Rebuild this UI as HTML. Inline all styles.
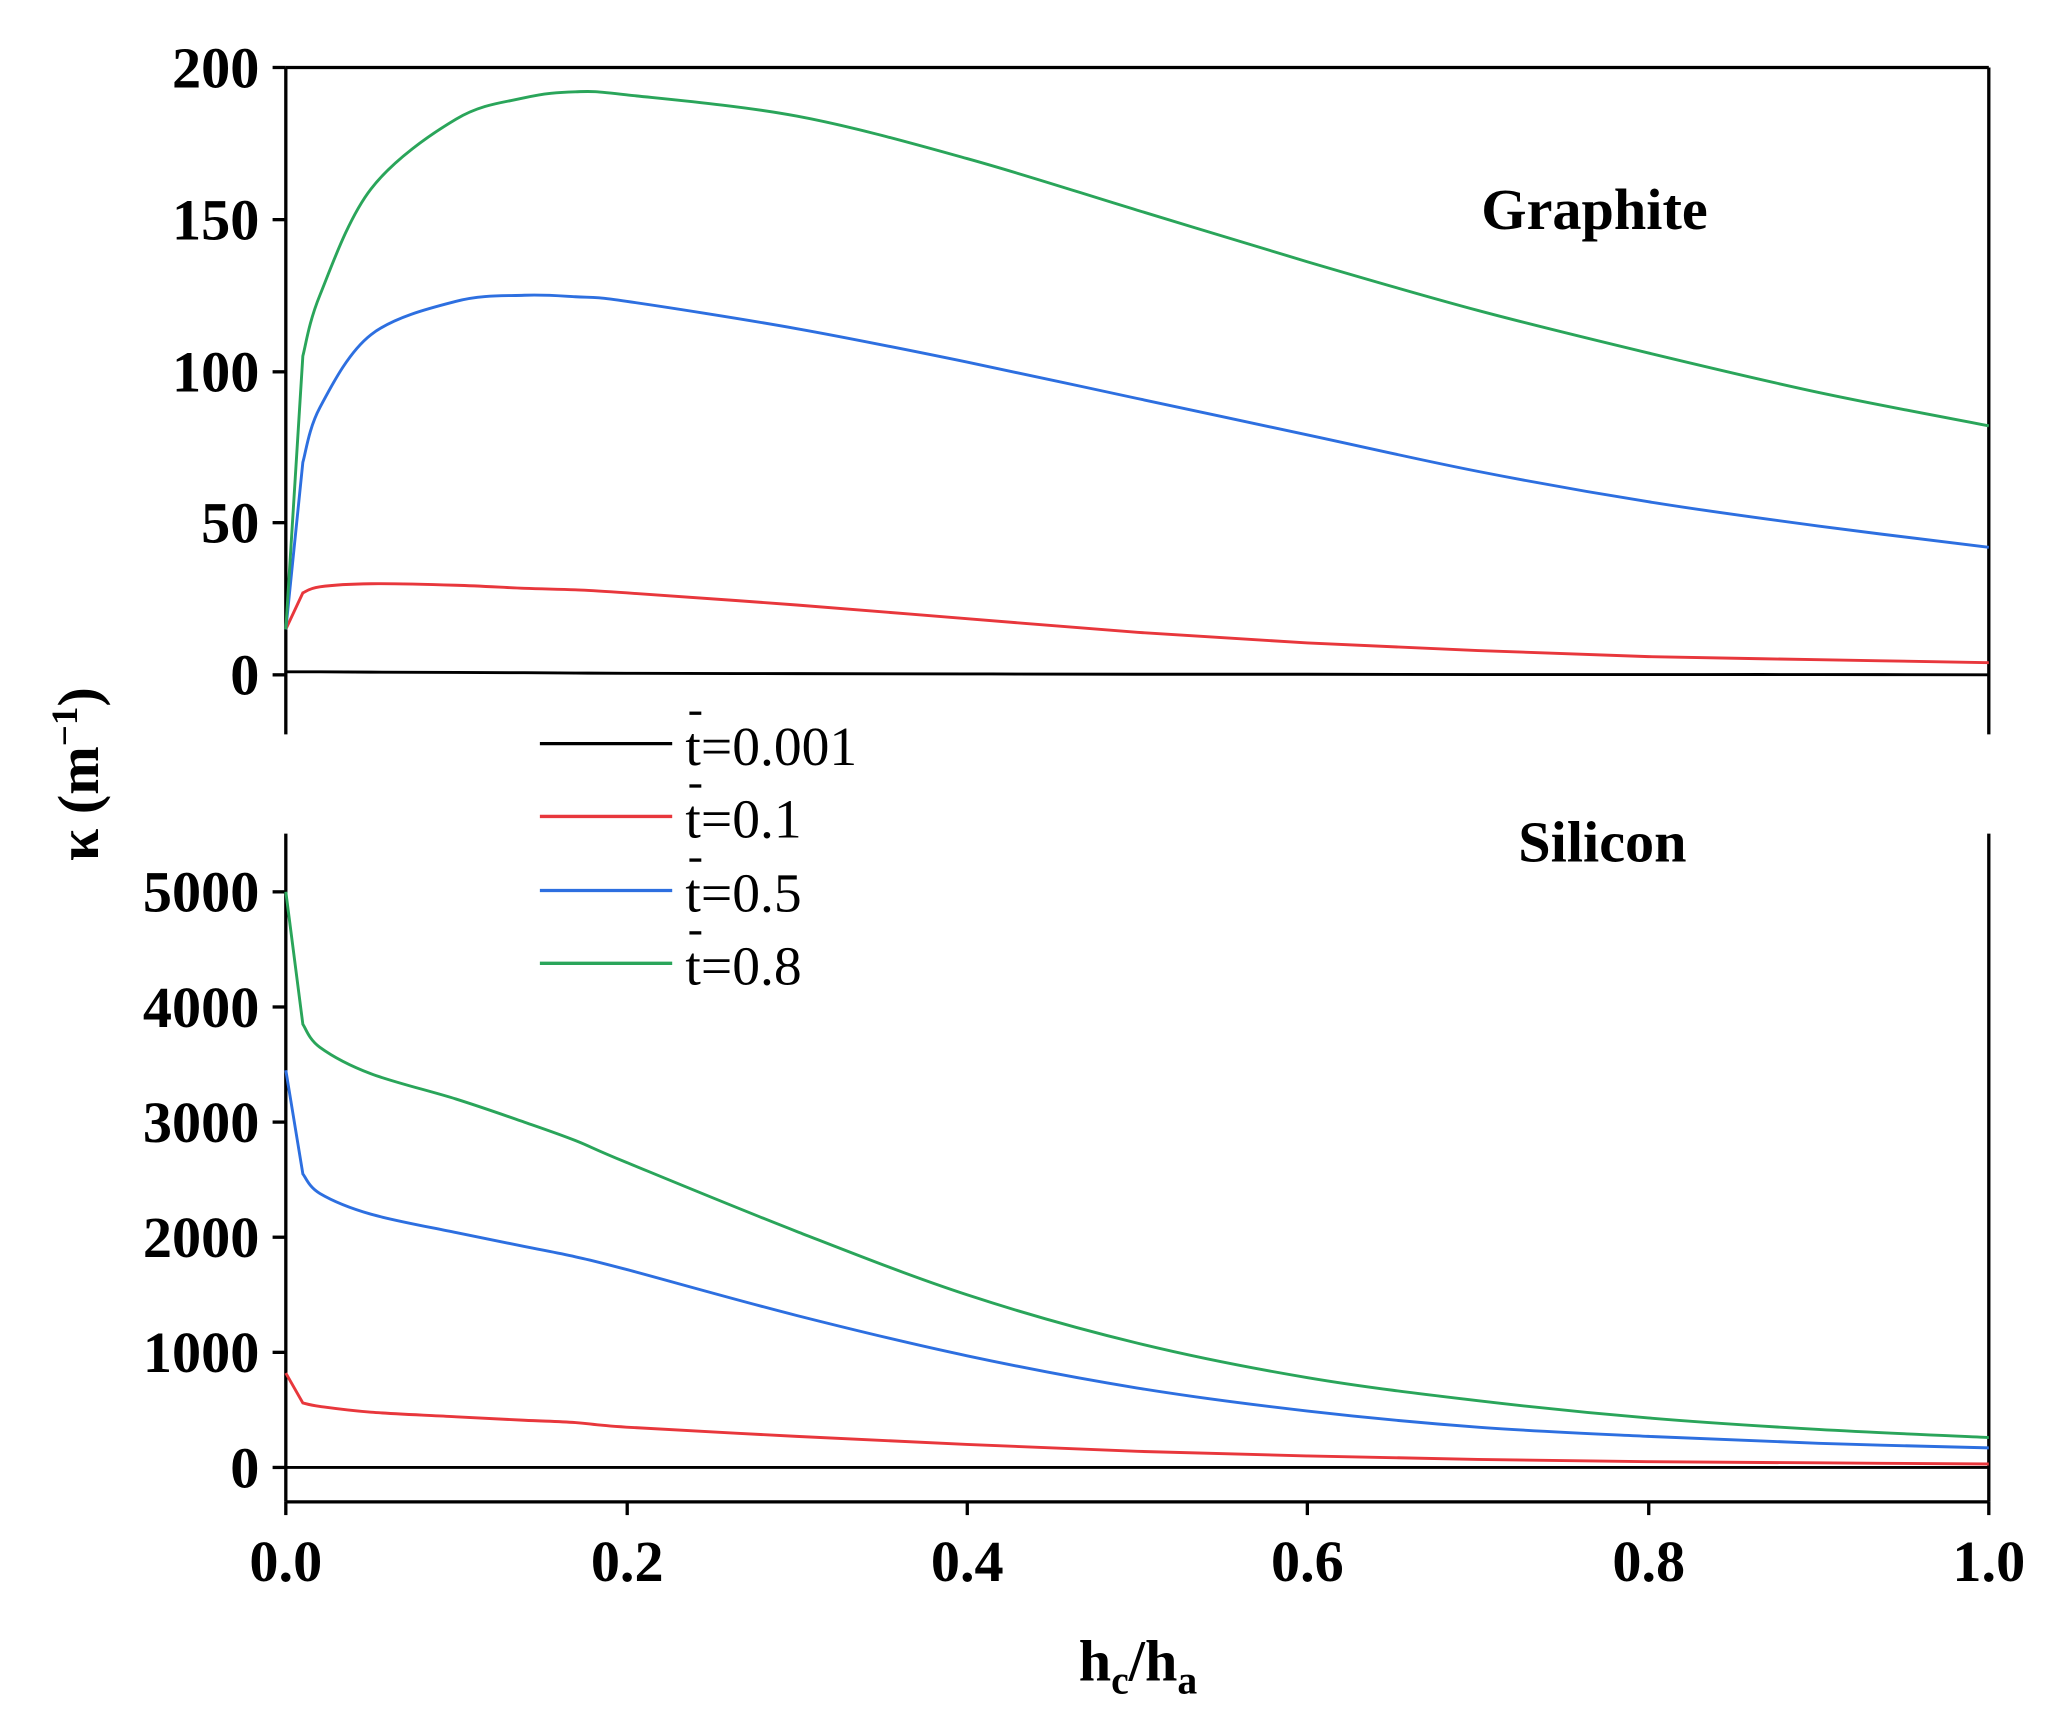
<!DOCTYPE html>
<html><head><meta charset="utf-8"><style>
html,body{margin:0;padding:0;background:#fff;}
svg{display:block;}
text{font-family:"Liberation Serif","DejaVu Serif",serif;fill:#000;}
.b{font-weight:bold;font-size:44px;}
.l{font-size:42px;}
</style></head><body>
<svg id="s" width="2051" height="1710" viewBox="0 0 1550 1292.3" preserveAspectRatio="none" xmlns="http://www.w3.org/2000/svg">
<g stroke="#000" stroke-width="2.5" fill="none">
<line x1="216" y1="51" x2="1503" y2="51"/>
<line x1="216" y1="51" x2="216" y2="555"/>
<line x1="1503" y1="51" x2="1503" y2="555"/>
<line x1="216" y1="630" x2="216" y2="1135"/>
<line x1="1503" y1="630" x2="1503" y2="1135"/>
<line x1="216" y1="1135" x2="1503" y2="1135"/>
<line x1="206" y1="51" x2="216" y2="51"/><line x1="206" y1="166" x2="216" y2="166"/><line x1="206" y1="281" x2="216" y2="281"/><line x1="206" y1="395" x2="216" y2="395"/><line x1="206" y1="510" x2="216" y2="510"/>
<line x1="206" y1="674" x2="216" y2="674"/><line x1="206" y1="761" x2="216" y2="761"/><line x1="206" y1="848" x2="216" y2="848"/><line x1="206" y1="935" x2="216" y2="935"/><line x1="206" y1="1022" x2="216" y2="1022"/><line x1="206" y1="1109" x2="216" y2="1109"/>
<line x1="216" y1="1135" x2="216" y2="1145"/><line x1="474" y1="1135" x2="474" y2="1145"/><line x1="731" y1="1135" x2="731" y2="1145"/><line x1="988" y1="1135" x2="988" y2="1145"/><line x1="1246" y1="1135" x2="1246" y2="1145"/><line x1="1503" y1="1135" x2="1503" y2="1145"/>
</g>
<g id="curves" fill="none" stroke-width="2.2"></g>
<g class="b" text-anchor="end">
<text x="196" y="66">200</text><text x="196" y="181">150</text><text x="196" y="296">100</text><text x="196" y="410">50</text><text x="196" y="525">0</text>
<text x="196" y="689">5000</text><text x="196" y="776">4000</text><text x="196" y="863">3000</text><text x="196" y="950">2000</text><text x="196" y="1037">1000</text><text x="196" y="1124">0</text>
</g>
<g class="b" text-anchor="middle">
<text x="216" y="1195">0.0</text><text x="474" y="1195">0.2</text><text x="731" y="1195">0.4</text><text x="988" y="1195">0.6</text><text x="1246" y="1195">0.8</text><text x="1503" y="1195">1.0</text>
<text x="1205" y="173">Graphite</text><text x="1211" y="651">Silicon</text>
<text x="860" y="1270">h<tspan font-size="30" dy="10">c</tspan><tspan dy="-10">/h</tspan><tspan font-size="30" dy="10">a</tspan></text>
<text transform="translate(74,585) rotate(-90)">κ (m<tspan font-size="28" dy="-16">−1</tspan><tspan dy="16">)</tspan></text>
</g>
<g stroke-width="2.5">
<line x1="408" y1="562" x2="508" y2="562" stroke="#000"/>
<line x1="408" y1="617" x2="508" y2="617" stroke="#e8373c"/>
<line x1="408" y1="673" x2="508" y2="673" stroke="#2d6fe0"/>
<line x1="408" y1="728" x2="508" y2="728" stroke="#2aa55a"/>
</g>
<g class="l">
<text x="518" y="578">t=0.001</text><text x="518" y="633">t=0.1</text><text x="518" y="689">t=0.5</text><text x="518" y="744">t=0.8</text>
</g>
<g stroke="#000" stroke-width="2.5">
<line x1="521" y1="539" x2="530" y2="539"/><line x1="521" y1="594" x2="530" y2="594"/><line x1="521" y1="650" x2="530" y2="650"/><line x1="521" y1="705" x2="530" y2="705"/>
</g>
</svg>
<script>
(function(){
var X=[0,0.01,0.02,0.05,0.1,0.14,0.17,0.2,0.3,0.4,0.5,0.6,0.7,0.8,0.9,1.0];
var topD={
"#000":[1,1,1,0.9,0.8,0.7,0.6,0.5,0.4,0.3,0.2,0.2,0.1,0.1,0.1,0],
"#e8373c":[15,27,29,30,29.5,28.5,28,27,23,18.5,14,10.5,8,6,5,4],
"#2d6fe0":[15,70,88,112,123,125,124.5,123,114,103,91,79,67,57,49,42],
"#2aa55a":[15,105,125,160,183,190,192,191,184,170,153,136,120,106,93,82]};
var botD={
"#000":[0,0,0,0,0,0,0,0,0,0,0,0,0,0,0,0],
"#e8373c":[820,560,530,480,440,410,390,350,270,200,140,100,70,50,40,30],
"#2d6fe0":[3450,2550,2380,2200,2040,1920,1830,1720,1320,970,690,490,350,270,210,170],
"#2aa55a":[5000,3850,3650,3420,3200,3000,2840,2650,2050,1500,1080,780,580,430,330,260]};
function path(ys,f){var p=X.map(function(x,i){return [216+1287*x,f(ys[i])];});
var d="M"+p[0][0]+","+p[0][1]+"L"+p[1][0]+","+p[1][1];
for(var i=1;i<p.length-1;i++){var p0=p[i-1],p1=p[i],p2=p[i+1],p3=p[Math.min(i+2,p.length-1)];
if(i==1){p0=p1;}
d+="C"+(p1[0]+(p2[0]-p0[0])/6)+","+(p1[1]+(p2[1]-p0[1])/6)+" "+(p2[0]-(p3[0]-p1[0])/6)+","+(p2[1]-(p3[1]-p1[1])/6)+" "+p2[0]+","+p2[1];}
return d;}
var g=document.getElementById("curves"),h="";
for(var c in topD)h+='<path stroke="'+c+'" d="'+path(topD[c],function(v){return 510-2.295*v;})+'"/>';
for(var c in botD)h+='<path stroke="'+c+'" d="'+path(botD[c],function(v){return 1109-0.087*v;})+'"/>';
g.innerHTML=h;
})();
</script>
</body></html>
